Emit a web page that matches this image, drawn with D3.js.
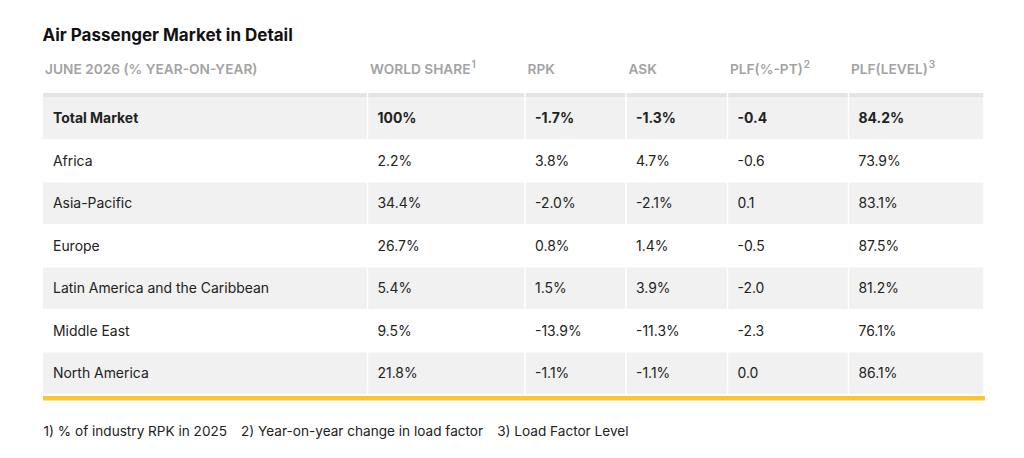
<!DOCTYPE html>
<html>
<head>
<meta charset="utf-8">
<script src="https://cdn.jsdelivr.net/npm/d3@7"></script>
<style>
  html, body { margin: 0; padding: 0; background: #fff; }
  svg { display: block; font-family: Inter, "Noto Sans", sans-serif; }
</style>
</head>
<body>
<svg id="chart" width="1024" height="458"></svg>
<script>
// ---- data ----
const title = "Air Passenger Market in Detail";
const headers = ["JUNE 2026 (% YEAR-ON-YEAR)", "WORLD SHARE", "RPK", "ASK", "PLF(%-PT)", "PLF(LEVEL)"];
const headerSup = ["", "1", "", "", "2", "3"];
const regions = ["Total Market", "Africa", "Asia-Pacific", "Europe", "Latin America and the Caribbean", "Middle East", "North America"];
const worldShare = ["100%", "2.2%", "34.4%", "26.7%", "5.4%", "9.5%", "21.8%"];
const rpk = ["-1.7%", "3.8%", "-2.0%", "0.8%", "1.5%", "-13.9%", "-1.1%"];
const ask = ["-1.3%", "4.7%", "-2.1%", "1.4%", "3.9%", "-11.3%", "-1.1%"];
const plfPt = ["-0.4", "-0.6", "0.1", "-0.5", "-2.0", "-2.3", "0.0"];
const plfLevel = ["84.2%", "73.9%", "83.1%", "87.5%", "81.2%", "76.1%", "86.1%"];
const footnotes = ["1) % of industry RPK in 2025", "2) Year-on-year change in load factor", "3) Load Factor Level"];

// ---- layout ----
const svg = d3.select("#chart");
const tableLeft = 43, tableRight = 984;
const colEdges = [43, 367.5, 525, 626, 727.5, 848.5, 984];
const columns = [regions, worldShare, rpk, ask, plfPt, plfLevel];

const x = d3.scaleOrdinal().domain(d3.range(columns.length)).range(colEdges.slice(0, -1));
const colW = i => colEdges[i + 1] - colEdges[i];
const y = d3.scaleBand().domain(d3.range(regions.length)).range([97, 394.5]).padding(0);

// title
svg.append("text")
  .attr("x", 42.5).attr("y", 41)
  .attr("font-size", 17).attr("font-weight", 700).attr("fill", "#111")
  .text(title);

// headers
const hdr = svg.append("g").selectAll("text").data(headers).join("text")
  .attr("x", (d, i) => x(i) + (i === 0 ? 2 : 2.5))
  .attr("y", 74)
  .attr("font-size", 13.7).attr("font-weight", 600).attr("fill", "#a3a3a3");
hdr.append("tspan").text(d => d);
hdr.append("tspan").attr("font-size", 10).attr("dy", -6).attr("dx", 1).text((d, i) => headerSup[i]);

// top band
svg.append("g").selectAll("rect").data(d3.range(columns.length)).join("rect")
  .attr("x", i => x(i) + (i === 0 ? 0 : 0.75))
  .attr("width", i => colW(i) - (i === 0 ? 0.75 : 1.5))
  .attr("y", 93).attr("height", 4).attr("fill", "#e4e4e4");

// shaded rows (cells separated by white gaps)
const shaded = d3.range(regions.length).filter(r => r % 2 === 0);
const cells = [];
shaded.forEach(r => d3.range(columns.length).forEach(c => cells.push({ r, c })));
svg.append("g").selectAll("rect").data(cells).join("rect")
  .attr("x", d => x(d.c) + (d.c === 0 ? 0 : 0.75))
  .attr("width", d => colW(d.c) - (d.c === 0 ? 0.75 : 1.5))
  .attr("y", d => y(d.r) + (d.r === 0 ? 0 : 0.5))
  .attr("height", d => y.bandwidth() - (d.r === 0 ? 0.5 : 1))
  .attr("fill", "#f1f1f1");

// cell texts
const textCells = [];
columns.forEach((col, c) => col.forEach((v, r) => textCells.push({ r, c, v })));
svg.append("g").selectAll("text").data(textCells).join("text")
  .attr("x", d => x(d.c) + 10)
  .attr("y", d => y(d.r) + y.bandwidth() / 2 + 5.2)
  .attr("font-size", 13.95)
  .attr("font-weight", d => d.r === 0 ? 700 : 400)
  .attr("fill", "#222")
  .text(d => d.v);

// yellow rule
svg.append("rect")
  .attr("x", tableLeft).attr("width", tableRight + 1 - tableLeft)
  .attr("y", 396).attr("height", 4.5).attr("fill", "#fcc72e");

// footnotes
const ft = svg.append("text").attr("x", 43.5).attr("y", 436)
  .attr("font-size", 13.6).attr("fill", "#222");
footnotes.forEach((f, i) => ft.append("tspan").attr("dx", i === 0 ? 0 : 14).text(f));
</script>
</body>
</html>
